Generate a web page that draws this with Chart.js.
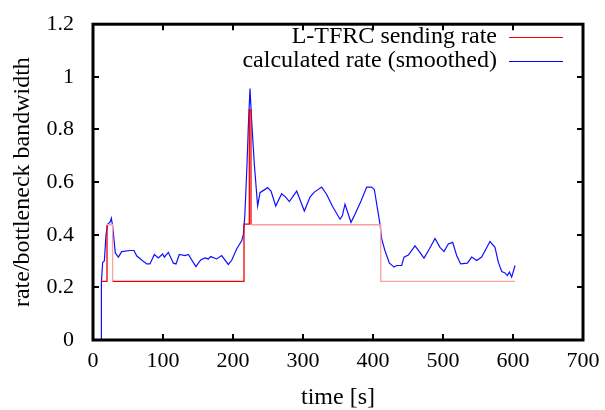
<!DOCTYPE html>
<html>
<head>
<meta charset="utf-8">
<script src="https://cdn.jsdelivr.net/npm/chart.js@4.4.1/dist/chart.umd.min.js"></script>
<style>
  html, body { margin: 0; padding: 0; background: #fff; }
  #wrap { width: 605px; height: 410px; }
</style>
</head>
<body>
<div id="wrap"><canvas id="myChart" width="605" height="410"></canvas></div>
<script>
// L-TFRC sending rate (step function)
const sendTimes = [11.4, 20, 28, 215.7, 223.3, 225.7, 411, 603];
const sendRates = [0.223, 0.438, 0.223, 0.44, 0.874, 0.438, 0.223, 0.223];

// calculated rate (smoothed)
const calcTimes = [11.9, 12.0, 13.8, 16.2, 18.6, 21, 24.8, 26.2, 28, 31.9, 32.9, 36.2, 41, 52.9, 58.6, 62.4,
    69.5, 76.7, 81.4, 87.6, 93.3, 99.5, 101.9, 107.6, 114.8, 118.6, 123.3, 131.4, 136.2, 147, 153.8,
    160, 164.8, 168.1, 176.7, 183.8, 193.3, 198, 205.2, 212.4, 214.8, 217, 220, 222, 224.3, 226.7,
    230.5, 235.2, 238.6, 249.5, 254.3, 261, 269.5, 275.2, 280.5, 291, 301.9, 310, 316.2, 326.7, 333.8,
    341.9, 352.9, 356.2, 360, 368.6, 374.3, 382.9, 391, 398, 401.9, 410, 412.4, 417, 423.3, 430, 433.8,
    441, 444.3, 450.5, 460, 463.3, 472.9, 480.5, 488.6, 495.7, 501.4, 507.6, 513.8, 519.5, 525.2,
    534.8, 541, 548.1, 555.2, 567.1, 574.3, 579, 583.9, 588.6, 591.9, 594.8, 598.1, 602.9];
const calcRates = [0, 0.22, 0.295, 0.30, 0.40, 0.44, 0.45, 0.463, 0.434, 0.33, 0.327, 0.315, 0.336, 0.34, 0.34, 0.32,
    0.304, 0.289, 0.289, 0.325, 0.312, 0.327, 0.315, 0.333, 0.292, 0.289, 0.325, 0.321, 0.325, 0.279, 0.304,
    0.312, 0.308, 0.317, 0.308, 0.321, 0.287, 0.302, 0.346, 0.377, 0.40, 0.478, 0.667, 0.818, 0.956, 0.83,
    0.667, 0.509, 0.56, 0.579, 0.566, 0.509, 0.556, 0.543, 0.526, 0.566, 0.49, 0.543, 0.562, 0.581, 0.553,
    0.509, 0.459, 0.472, 0.516, 0.447, 0.478, 0.528, 0.581, 0.581, 0.572, 0.44, 0.384, 0.34, 0.293, 0.277, 0.283,
    0.283, 0.315, 0.323, 0.358, 0.346, 0.311, 0.346, 0.386, 0.352, 0.336, 0.365, 0.371, 0.321, 0.289,
    0.292, 0.315, 0.302, 0.315, 0.374, 0.352, 0.296, 0.26, 0.255, 0.245, 0.258, 0.239, 0.283];

const xTicks = [0, 100, 200, 300, 400, 500, 600, 700];
const yTicks = [0, 0.2, 0.4, 0.6, 0.8, 1, 1.2];

const serif = 'Liberation Serif';

const pairs = (xs, ys) => xs.map((x, i) => ({x: x, y: ys[i]}));

// gnuplot style frame with inward ticks on all four sides
const frame = {
    id: 'frame',
    afterDatasetsDraw(chart) {
        const c = chart.ctx, a = chart.chartArea;
        const sx = chart.scales.x, sy = chart.scales.y;
        c.save();
        c.strokeStyle = '#000';
        c.lineWidth = 2;
        c.beginPath();
        xTicks.forEach(v => {
            const px = Math.round(sx.getPixelForValue(v));
            c.moveTo(px, a.bottom); c.lineTo(px, a.bottom - 6);
            c.moveTo(px, a.top); c.lineTo(px, a.top + 6);
        });
        yTicks.forEach(v => {
            const py = Math.round(sy.getPixelForValue(v));
            c.moveTo(a.left, py); c.lineTo(a.left + 6, py);
            c.moveTo(a.right, py); c.lineTo(a.right - 6, py);
        });
        c.stroke();
        c.lineWidth = 3;
        c.strokeRect(a.left, a.top, a.right - a.left, a.bottom - a.top);

        // key
        c.font = '24px "' + serif + '"';
        c.textAlign = 'right';
        c.textBaseline = 'middle';
        c.fillStyle = '#000';
        const keys = [['L-TFRC sending rate', '#ff0000', 37], ['calculated rate (smoothed)', '#0000ff', 61]];
        c.lineWidth = 1;
        keys.forEach(k => {
            c.fillText(k[0], 497, k[2]);
            c.strokeStyle = k[1];
            c.beginPath();
            c.moveTo(509, k[2] + 0.5); c.lineTo(563, k[2] + 0.5);
            c.stroke();
        });
        c.restore();
    }
};

const ctx = document.getElementById('myChart').getContext('2d');

const myChart = new Chart(ctx, {
    type: 'line',
    data: {
        datasets: [{
            label: 'L-TFRC sending rate',
            data: pairs(sendTimes, sendRates),
            borderColor: '#ee0000',
            borderWidth: 1.3,
            stepped: true,
            pointRadius: 0,
            segment: {
                borderColor: s => (s.p0DataIndex === 1 || s.p0DataIndex >= 5) ? '#ffa0a0' : '#ee0000'
            }
        }, {
            label: 'calculated rate (smoothed)',
            data: pairs(calcTimes, calcRates),
            borderColor: '#1010ff',
            borderWidth: 1.2,
            pointRadius: 0,
            tension: 0
        }]
    },
    options: {
        responsive: false,
        animation: false,
        layout: {padding: {top: 22, right: 22, left: 0, bottom: 0}},
        scales: {
            x: {
                type: 'linear',
                min: 0,
                max: 700,
                afterBuildTicks: s => { s.ticks = xTicks.map(v => ({value: v})); },
                afterFit: s => { s.height = 70; },
                grid: {display: false},
                border: {display: false},
                ticks: {color: '#000', font: {family: serif, size: 22}, padding: 0, maxRotation: 0},
                title: {display: true, text: 'time [s]', color: '#000',
                    font: {family: serif, size: 24, lineHeight: 1}, padding: {top: 0, bottom: 0}}
            },
            y: {
                min: 0,
                max: 1.2,
                afterBuildTicks: s => { s.ticks = yTicks.map(v => ({value: v})); },
                afterFit: s => { s.width = 93; },
                grid: {display: false},
                border: {display: false},
                ticks: {color: '#000', font: {family: serif, size: 22}, padding: 11,
                    callback: v => String(Math.round(v * 10) / 10)},
                title: {display: true, text: 'rate/bottleneck bandwidth', color: '#000',
                    font: {family: serif, size: 24}, padding: {top: 8, bottom: 0}}
            }
        },
        plugins: {
            legend: {display: false},
            tooltip: {enabled: false}
        }
    },
    plugins: [frame]
});
</script>
</body>
</html>
